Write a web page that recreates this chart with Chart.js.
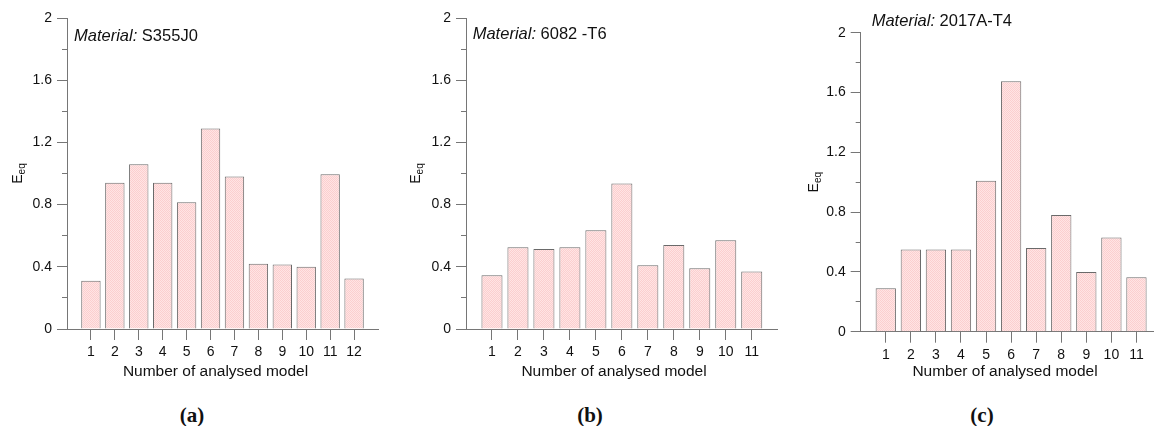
<!DOCTYPE html>
<html>
<head>
<meta charset="utf-8">
<script src="https://cdn.jsdelivr.net/npm/chart.js@4.4.0/dist/chart.umd.min.js"></script>
<style>
  body { margin: 0; background: #fff; width: 1154px; height: 426px; position: relative; overflow: hidden; }
  .panel { position: absolute; top: 0; }
  .cap { position: absolute; top: 403px; line-height: 19px; font: bold 21px "Liberation Serif", "DejaVu Serif", serif; color: #111; transform: translateX(-50%); }
</style>
</head>
<body>
<div class="panel" style="left:0px"><canvas id="chartA" width="385" height="385"></canvas></div>
<div class="panel" style="left:385px"><canvas id="chartB" width="400" height="385"></canvas></div>
<div class="panel" style="left:790px"><canvas id="chartC" width="364" height="385"></canvas></div>
<div class="cap" style="left:192px">(a)</div>
<div class="cap" style="left:590px">(b)</div>
<div class="cap" style="left:982px">(c)</div>

<script>
// Data
const modelsA = [1, 2, 3, 4, 5, 6, 7, 8, 9, 10, 11, 12];
const eqA = [0.31, 0.94, 1.06, 0.94, 0.815, 1.29, 0.98, 0.42, 0.415, 0.40, 0.995, 0.325];

const modelsB = [1, 2, 3, 4, 5, 6, 7, 8, 9, 10, 11];
const eqB = [0.345, 0.525, 0.515, 0.525, 0.635, 0.935, 0.41, 0.54, 0.39, 0.57, 0.37];

const modelsC = [1, 2, 3, 4, 5, 6, 7, 8, 9, 10, 11];
const eqC = [0.29, 0.55, 0.55, 0.55, 1.01, 1.675, 0.56, 0.78, 0.40, 0.63, 0.365];

const yTicks = [0, 0.4, 0.8, 1.2, 1.6, 2];
const yMinorTicks = [0.2, 0.6, 1.0, 1.4, 1.8];
const materials = ['S355J0', '6082 -T6', '2017A-T4'];

const FONT = '"Liberation Sans", Arial, sans-serif';
const AXIS = '#767676';

// pink fine-hatched fill like the original bars
function hatchFill() {
    const c = document.createElement('canvas');
    c.width = 2; c.height = 2;
    const g = c.getContext('2d');
    g.fillStyle = '#ffe4e4';
    g.fillRect(0, 0, 2, 2);
    g.fillStyle = '#fbcfcf';
    g.fillRect(0, 0, 1, 1);
    g.fillRect(1, 1, 1, 1);
    return g.createPattern(c, 'repeat');
}

function makeChart(id, models, values, material, p) {
    const canvas = document.getElementById(id);
    const H = canvas.height;

    const texts = {
        id: 'texts',
        afterDraw(chart) {
            const ctx = chart.ctx;
            ctx.save();
            ctx.fillStyle = '#111';
            ctx.textBaseline = 'alphabetic';
            // material note
            ctx.font = 'italic 16.5px ' + FONT;
            ctx.textAlign = 'left';
            const lead = 'Material:';
            ctx.fillText(lead, p.matX, p.matY);
            const w = ctx.measureText(lead).width;
            ctx.font = '16.5px ' + FONT;
            ctx.fillText(' ' + material, p.matX + w, p.matY);
            // x title
            ctx.font = '15.5px ' + FONT;
            ctx.textAlign = 'center';
            ctx.fillText('Number of analysed model', p.xTitleX, 376);
            // y title E_eq
            const cy = (chart.chartArea.top + chart.chartArea.bottom) / 2;
            ctx.translate(p.yTitleX, cy);
            ctx.rotate(-Math.PI / 2);
            ctx.textAlign = 'left';
            ctx.font = '14px ' + FONT;
            const wE = ctx.measureText('E').width;
            ctx.font = '10px ' + FONT;
            const wS = ctx.measureText('eq').width;
            const x0 = -(wE + wS) / 2;
            ctx.font = '14px ' + FONT;
            ctx.fillText('E', x0, 0);
            ctx.font = '10px ' + FONT;
            ctx.fillText('eq', x0 + wE, 3);
            ctx.restore();
        }
    };

    return new Chart(canvas, {
        type: 'bar',
        data: {
            datasets: [{
                data: models.map((m, i) => ({ x: m, y: values[i] })),
                backgroundColor: hatchFill(),
                borderColor: '#6a6a6a',
                borderWidth: 1,
                barPercentage: 0.81,
                categoryPercentage: 1
            }]
        },
        options: {
            responsive: false,
            animation: false,
            layout: { padding: { top: p.top, right: p.right, left: 0, bottom: 0 } },
            plugins: { legend: { display: false }, tooltip: { enabled: false } },
            scales: {
                x: {
                    type: 'linear',
                    min: 0,
                    max: p.xMax,
                    offset: false,
                    afterBuildTicks: s => { s.ticks = models.map(v => ({ value: v })); },
                    afterFit: s => { s.height = H - p.bottom; },
                    grid: { drawOnChartArea: false, offset: false, tickLength: 11, tickColor: AXIS },
                    border: { color: AXIS, width: 1 },
                    ticks: { padding: 4, color: '#111', font: { family: FONT, size: 14 }, maxRotation: 0, autoSkip: false }
                },
                y: {
                    position: 'left',
                    weight: 1,
                    min: 0,
                    max: 2,
                    afterBuildTicks: s => { s.ticks = yTicks.map(v => ({ value: v })); },
                    afterFit: s => { s.width = p.left; },
                    grid: { drawOnChartArea: false, tickLength: 10, tickColor: AXIS },
                    border: { color: AXIS, width: 1 },
                    ticks: {
                        padding: 5, color: '#111', font: { family: FONT, size: 14 },
                        callback: v => (v === 0 || v === 2) ? String(v) : v.toFixed(1)
                    }
                },
                y2: {
                    position: 'left',
                    weight: 0,
                    min: 0,
                    max: 2,
                    afterBuildTicks: s => { s.ticks = yMinorTicks.map(v => ({ value: v })); },
                    afterFit: s => { s.width = 0; },
                    grid: { drawOnChartArea: false, tickLength: 5, tickColor: AXIS },
                    border: { display: false },
                    ticks: { display: false }
                }
            }
        },
        plugins: [texts]
    });
}

makeChart('chartA', modelsA, eqA, materials[0], {
    left: 67, top: 18, bottom: 329, right: 7, xMax: 13,
    matX: 74, matY: 40.5, xTitleX: 215.5, yTitleX: 22
});
makeChart('chartB', modelsB, eqB, materials[1], {
    left: 81, top: 18, bottom: 329, right: 7.3, xMax: 12,
    matX: 87.7, matY: 39, xTitleX: 229, yTitleX: 35
});
makeChart('chartC', modelsC, eqC, materials[2], {
    left: 70.7, top: 32.7, bottom: 331.7, right: 0, xMax: 11.7,
    matX: 81.7, matY: 26, xTitleX: 215, yTitleX: 28.3
});
</script>
</body>
</html>
